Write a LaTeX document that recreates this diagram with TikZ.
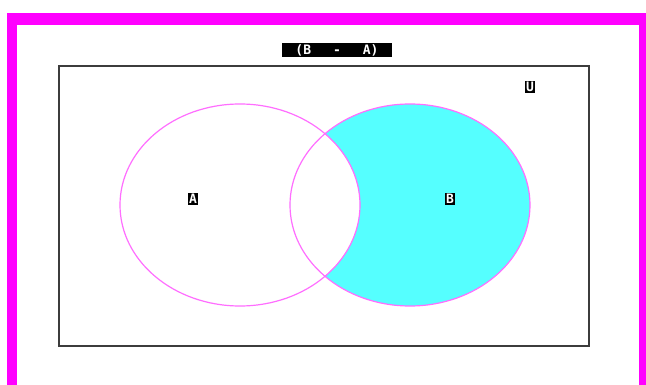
\documentclass[tikz,border=0pt]{standalone}
\usepackage{fontspec}
\setmonofont{DejaVu Sans Mono}
\definecolor{frame}{RGB}{255,0,255}
\definecolor{ring}{RGB}{255,110,255}
\definecolor{fillc}{RGB}{85,255,255}
\definecolor{boxc}{RGB}{60,60,60}
\tikzset{
  lbl/.style={fill=black,text=white,font=\ttfamily\bfseries\fontsize{13}{14}\selectfont,inner sep=1pt},
  setring/.style={draw=ring,line width=1.2pt},
}
\begin{document}
\begin{tikzpicture}[x=1pt,y=-1pt]
\useasboundingbox (0,0) rectangle (646,385);
\fill[white] (0,0) rectangle (646,385);
% magenta frame
\fill[frame] (7,13) rectangle (646,25);
\fill[frame] (7,13) rectangle (17,385);
\fill[frame] (639,13) rectangle (646,385);
% universe
\draw[boxc,line width=1.6pt] (59,66) rectangle (589,346);
% fill B - A
\begin{scope}
  \clip (410,205) ellipse [x radius=120,y radius=101];
  \fill[fillc,even odd rule] (290,104) rectangle (531,307) (240,205) ellipse [x radius=120,y radius=101];
\end{scope}
\draw[setring] (240,205) ellipse [x radius=120,y radius=101];
\draw[setring] (410,205) ellipse [x radius=120,y radius=101];
% labels
\node[lbl,minimum width=110pt,minimum height=14pt,inner sep=0pt] (title) at (337,50) {(B\hspace{22pt}-\hspace{22pt}A)};
\node[lbl] (la) at (193,199) {A};
\node[lbl] (lb) at (450,199) {B};
\node[lbl] (lu) at (530,87) {U};
\end{tikzpicture}
\end{document}
